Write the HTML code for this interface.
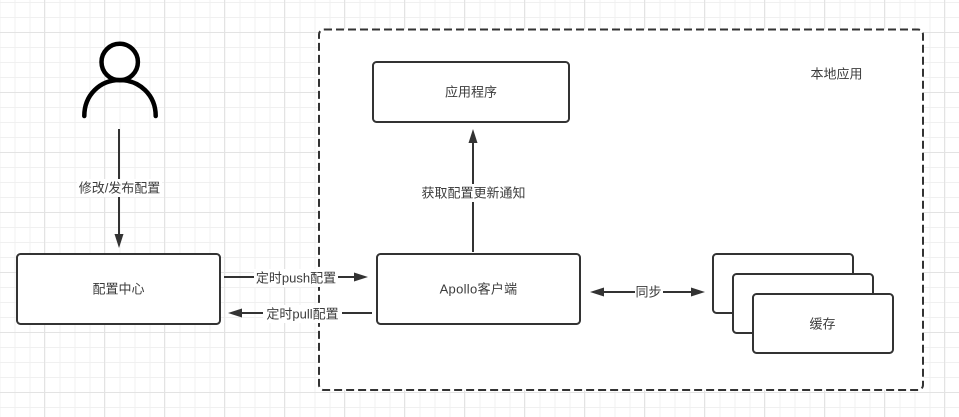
<!DOCTYPE html>
<html>
<head>
<meta charset="utf-8">
<style>
html,body{margin:0;padding:0;background:#fff;width:959px;height:417px;overflow:hidden}
svg{display:block}
text{font-family:"Liberation Sans","Noto Sans CJK SC",sans-serif;font-size:13px;fill:#3c3c3c;text-anchor:middle;dominant-baseline:central}
</style>
</head>
<body>
<svg width="959" height="417" viewBox="0 0 959 417" xmlns="http://www.w3.org/2000/svg">
<defs>
<pattern id="g" x="-0.5" y="2" width="15" height="15" patternUnits="userSpaceOnUse">
<path d="M0 0.5H15M0.5 0V15" stroke="#f0f0f0" stroke-width="1" fill="none"/>
</pattern>
<pattern id="G" x="44" y="32" width="60" height="60" patternUnits="userSpaceOnUse">
<path d="M0 0.5H60M0.5 0V60" stroke="#e3e3e3" stroke-width="1" fill="none"/>
</pattern>
</defs>
<rect width="959" height="417" fill="#fff"/>
<rect width="959" height="417" fill="url(#g)"/>
<rect width="959" height="417" fill="url(#G)"/>

<!-- Local app dashed container -->
<rect x="319" y="29.5" width="604" height="360.5" rx="5" fill="#fff" stroke="#333" stroke-width="2" stroke-dasharray="8 4"/>

<!-- Person -->
<circle cx="119.700" cy="62" r="18.200" fill="#fff" stroke="#000" stroke-width="4.500"/>
<path d="M84.300 116C84.300 95 100 80 119.700 80C139.400 80 155.700 95 155.700 116" fill="none" stroke="#000" stroke-width="4.500" stroke-linecap="round"/>

<!-- Boxes -->
<rect x="17" y="254" width="203" height="70" rx="3.500" fill="#fff" stroke="#333" stroke-width="2"/>
<rect x="373" y="62" width="196" height="60" rx="3.500" fill="#fff" stroke="#333" stroke-width="2"/>
<rect x="377" y="254" width="203" height="70" rx="3.500" fill="#fff" stroke="#333" stroke-width="2"/>
<rect x="713" y="254" width="140" height="59" rx="3.500" fill="#fff" stroke="#333" stroke-width="2"/>
<rect x="733" y="274" width="140" height="59" rx="3.500" fill="#fff" stroke="#333" stroke-width="2"/>
<rect x="753" y="294" width="140" height="59" rx="3.500" fill="#fff" stroke="#333" stroke-width="2"/>

<!-- Connectors -->
<g stroke="#333" stroke-width="2" fill="none">
<path d="M119 129V236"/>
<path d="M224 277H356"/>
<path d="M372 313H240"/>
<path d="M473 252V142"/>
<path d="M602 292H695"/>
</g>
<g fill="#333">
<path d="M114.500 234L119 248L123.500 234Z"/>
<path d="M354 272.500L368 277L354 281.500Z"/>
<path d="M242 308.500L228 313L242 317.500Z"/>
<path d="M468.500 143L473 129L477.500 143Z"/>
<path d="M604 287.500L590 292L604 296.500Z"/>
<path d="M691 287.500L705 292L691 296.500Z"/>
</g>

<!-- Label backgrounds -->
<g fill="#fff">
<rect x="77" y="179" width="85" height="18"/>
<rect x="254" y="269" width="84" height="18"/>
<rect x="263" y="305" width="79" height="18"/>
<rect x="421" y="184" width="105" height="18"/>
<rect x="635" y="283" width="28" height="18"/>
</g>

<!-- Labels -->
<text x="119.500" y="188">修改/发布配置</text>
<text x="296" y="278">定时push配置</text>
<text x="302.500" y="314">定时pull配置</text>
<text x="473.500" y="193">获取配置更新通知</text>
<text x="648.500" y="292">同步</text>
<text x="118.500" y="289">配置中心</text>
<text x="471" y="92">应用程序</text>
<text x="478.500" y="289" letter-spacing="0.300">Apollo客户端</text>
<text x="822.500" y="324">缓存</text>
<text x="836.500" y="74">本地应用</text>
</svg>
</body>
</html>
